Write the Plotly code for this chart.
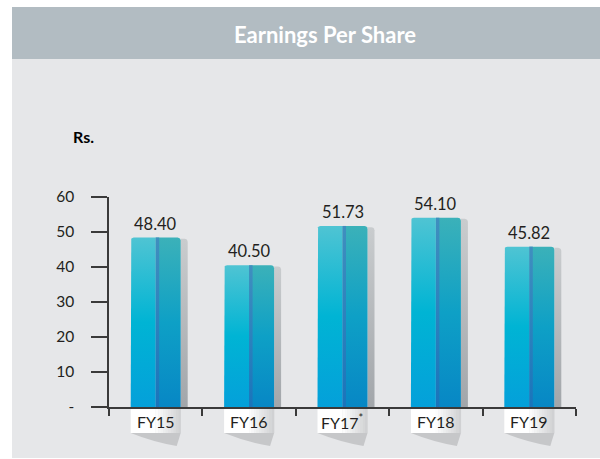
import plotly.graph_objects as go
import numpy as np

categories = ["FY15", "FY16", "FY17<sup>*</sup>", "FY18", "FY19"]
eps_values = [48.40, 40.50, 51.73, 54.10, 45.82]
value_labels = ["48.40", "40.50", "51.73", "54.10", "45.82"]
y_tickvals = [0, 10, 20, 30, 40, 50, 60]
y_ticktext = ["-", "10", "20", "30", "40", "50", "60"]

W, H = 600, 459
ML, MR, MT, MB = 109, 24, 197, 52
PW, PH = W - ML - MR, H - MT - MB
XMIN, XMAX = -0.5, len(categories) - 0.5
YMIN, YMAX = 0, 60
ux = (XMAX - XMIN) / PW        # data units per px (x)
uy = (YMAX - YMIN) / PH        # data units per px (y)

def px_x(p):  # pixel -> paper x
    return (p - ML) / PW

def px_y(p):  # pixel -> paper y
    return (H - MB - p) / PH

FONT = "Lato"
TXT = "#231f20"
AX = "#3a3a3a"

fig = go.Figure()

half = 25 * ux
rx, ry = 3 * ux, 3 * uy
sh_w = 7 * ux

def arc(cx, cy, a0, a1, n=6):
    t = np.linspace(a0, a1, n)
    return list(cx + rx * np.cos(t)), list(cy + ry * np.sin(t))

left_cs = [[0, "#04a0da"], [0.5, "#00b4d4"], [1, "#4fc4d3"]]
right_cs = [[0, "#0787c5"], [0.5, "#0ea0c6"], [1, "#3bb1b9"]]
stripe_cs = [[0, "#1a74bb"], [1, "#3f8fbf"]]
shadow_cs = [[0, "#a2a6aa"], [1, "#c9ccce"]]

def poly(xs, ys, cs):
    fig.add_trace(go.Scatter(
        x=xs, y=ys, mode="lines", fill="toself", line=dict(width=0),
        fillgradient=dict(type="vertical", colorscale=cs),
        hoverinfo="skip", showlegend=False))

for i, v in enumerate(eps_values):
    c = i
    L, R = c - half, c + half
    # shadow behind bar
    st = v - 1.2 * uy
    ax_, ay_ = arc(R + sh_w - rx, st - ry, np.pi / 2, 0)
    poly([R, R] + ax_ + [R + sh_w, R], [0, st] + ay_ + [0, 0], shadow_cs)
    # left half
    ax_, ay_ = arc(L + rx, v - ry, np.pi, np.pi / 2)
    poly([L, L] + ax_ + [c, c, L], [0, v - ry] + ay_ + [v, 0, 0], left_cs)
    # right half
    ax_, ay_ = arc(R - rx, v - ry, np.pi / 2, 0)
    poly([c, c] + ax_ + [R, R, c], [0, v] + ay_ + [0, 0, 0], right_cs)
    # center stripe
    s0, s1 = c, c + 3.5 * ux
    poly([s0, s0, s1, s1, s0], [0, v, v, 0, 0], stripe_cs)

shapes = []
# panel background and title bar
shapes.append(dict(type="rect", xref="paper", yref="paper", layer="below",
                   x0=px_x(12), x1=px_x(600), y0=px_y(458), y1=px_y(59),
                   fillcolor="#e6e7e9", line=dict(width=0)))
shapes.append(dict(type="rect", xref="paper", yref="paper", layer="below",
                   x0=px_x(12), x1=px_x(600), y0=px_y(59), y1=px_y(7),
                   fillcolor="#b2bcc2", line=dict(width=0)))
# x axis extension to the left of the y axis
shapes.append(dict(type="line", xref="paper", yref="paper", layer="above",
                   x0=px_x(92), x1=0, y0=0, y1=0, line=dict(color=AX, width=1.5)))

# label boxes under the axis
yb_top, yb_bot = px_y(408), px_y(433)
n_strips = 10
for i in range(len(categories)):
    c = i
    L, R = c - half, c + half
    # shadow wedge
    shapes.append(dict(type="path", xref="x", yref="paper", layer="below",
                       path=f"M {L},{yb_bot} L {R},{yb_bot} L {R - 4*ux},{px_y(446)} "
                            f"Q {L + 0.45*(R-L)},{px_y(442)} {L},{yb_bot} Z",
                       fillcolor="#c6c7c9", line=dict(width=0)))
    shapes.append(dict(type="rect", xref="x", yref="paper", layer="below",
                       x0=L, x1=c, y0=yb_bot, y1=yb_top,
                       fillcolor="#ffffff", line=dict(width=0)))
    for k in range(n_strips):
        f = (k + 0.5) / n_strips
        g0 = np.array([255, 255, 255]); g1 = np.array([206, 207, 209])
        col = g0 + (g1 - g0) * f
        shapes.append(dict(type="rect", xref="x", yref="paper", layer="below",
                           x0=c + (R - c) * k / n_strips, x1=c + (R - c) * (k + 1) / n_strips + 0.2 * ux,
                           y0=yb_bot, y1=yb_top,
                           fillcolor=f"rgb({int(col[0])},{int(col[1])},{int(col[2])})",
                           line=dict(width=0)))

annotations = []
annotations.append(dict(text="<b>Earnings Per Share</b>", xref="paper", yref="paper",
                        x=px_x(324.5), y=px_y(34), xanchor="center", yanchor="middle",
                        showarrow=False,
                        font=dict(family=FONT, size=22, color="#ffffff")))
annotations.append(dict(text="<b>Rs.</b>", xref="paper", yref="paper",
                        x=px_x(83.5), y=px_y(137), xanchor="center", yanchor="middle",
                        showarrow=False,
                        font=dict(family=FONT, size=16, color="#000000")))
for i, (v, lab) in enumerate(zip(eps_values, value_labels)):
    annotations.append(dict(text=lab, x=i, y=v, xref="x", yref="y", showarrow=False,
                            xanchor="center", yanchor="bottom", yshift=2,
                            font=dict(family=FONT, size=16.5, color=TXT)))
for i, cat in enumerate(categories):
    annotations.append(dict(text=cat, x=i, y=px_y(421), xref="x", yref="paper",
                            showarrow=False, xanchor="center", yanchor="middle",
                            font=dict(family=FONT, size=16, color=TXT)))

fig.update_layout(
    width=W, height=H,
    margin=dict(l=ML, r=MR, t=MT, b=MB, pad=0),
    paper_bgcolor="#ffffff", plot_bgcolor="rgba(0,0,0,0)",
    showlegend=False,
    shapes=shapes, annotations=annotations,
    xaxis=dict(range=[XMIN, XMAX], showgrid=False, zeroline=False,
               showline=True, linecolor=AX, linewidth=1.5,
               ticks="outside", ticklen=7, tickwidth=1.5, tickcolor=AX,
               tickvals=[k - 0.5 for k in range(len(categories) + 1)],
               showticklabels=False, fixedrange=True),
    yaxis=dict(range=[YMIN, YMAX], showgrid=False, zeroline=False,
               showline=True, linecolor=AX, linewidth=1.5,
               ticks="outside", ticklen=16, tickwidth=1.5, tickcolor=AX,
               tickvals=y_tickvals, ticktext=y_ticktext,
               ticklabelstandoff=14,
               tickfont=dict(family=FONT, size=15.5, color=TXT), fixedrange=True),
)

fig.write_html("out.html", config={"displayModeBar": False},
               post_script="document.body.style.margin='0px';")
